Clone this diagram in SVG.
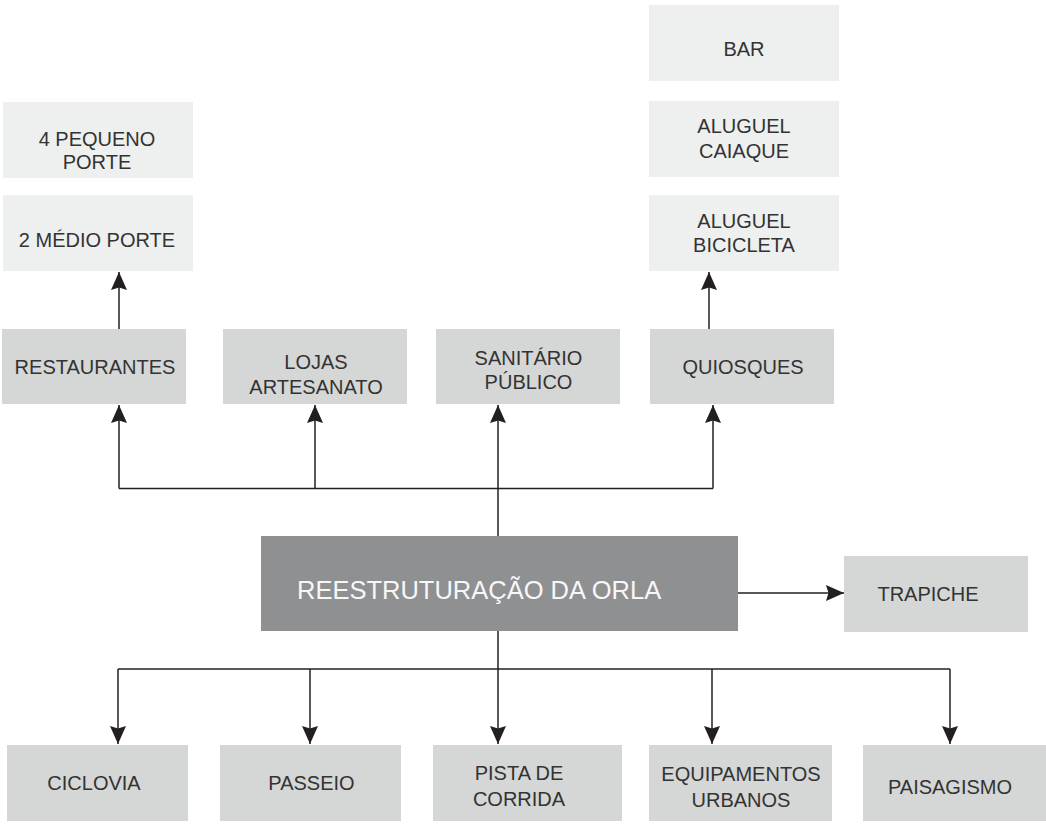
<svg xmlns="http://www.w3.org/2000/svg" width="1046" height="825" viewBox="0 0 1046 825">
<defs>
<style>
.light{fill:#eeefef}
.mid{fill:#d5d6d6}
.dark{fill:#8f9092}
.t{font-family:"Liberation Sans",Arial,sans-serif;font-size:20px;fill:#333333;text-anchor:middle}
.tc{font-family:"Liberation Sans",Arial,sans-serif;font-size:25.5px;fill:#f7f7f7}
.ln{fill:none;stroke:#231f20;stroke-width:1.5}
</style>
<marker id="arr" viewBox="0 0 18 16" refX="18" refY="8" markerWidth="18" markerHeight="16" markerUnits="userSpaceOnUse" orient="auto">
<path d="M0,0 L18,8 L0,16 L2.5,8 Z" fill="#231f20"/>
</marker>
</defs>
<rect width="1046" height="825" fill="#ffffff"/>

<g id="connectors">
<path class="ln" d="M119,329 V272" marker-end="url(#arr)"/>
<path class="ln" d="M709,329 V272" marker-end="url(#arr)"/>
<path class="ln" d="M498,536 V405" marker-end="url(#arr)"/>
<path class="ln" d="M119,488.5 H713"/>
<path class="ln" d="M119,488.5 V405" marker-end="url(#arr)"/>
<path class="ln" d="M315,488.5 V405" marker-end="url(#arr)"/>
<path class="ln" d="M713,488.5 V405" marker-end="url(#arr)"/>
<path class="ln" d="M738,593 H844" marker-end="url(#arr)"/>
<path class="ln" d="M498,631 V744" marker-end="url(#arr)"/>
<path class="ln" d="M118,669 H950"/>
<path class="ln" d="M118,669 V744" marker-end="url(#arr)"/>
<path class="ln" d="M310,669 V744" marker-end="url(#arr)"/>
<path class="ln" d="M712,669 V744" marker-end="url(#arr)"/>
<path class="ln" d="M950,669 V744" marker-end="url(#arr)"/>
</g>

<g id="pequeno-porte"><rect class="light" x="3" y="102" width="190" height="76"/><text class="t" x="97"><tspan x="97" y="145.5">4 PEQUENO</tspan><tspan x="97" y="168.5">PORTE</tspan></text></g>
<g id="medio-porte"><rect class="light" x="3" y="195" width="190" height="76"/><text class="t" x="97" y="246.5">2 MÉDIO PORTE</text></g>
<g id="bar"><rect class="light" x="649" y="5" width="190" height="76"/><text class="t" x="744" y="55.5">BAR</text></g>
<g id="aluguel-caiaque"><rect class="light" x="649" y="101" width="190" height="76"/><text class="t"><tspan x="744" y="133.3">ALUGUEL</tspan><tspan x="744" y="157.8">CAIAQUE</tspan></text></g>
<g id="aluguel-bicicleta"><rect class="light" x="649" y="195" width="190" height="76"/><text class="t"><tspan x="744" y="227.7">ALUGUEL</tspan><tspan x="744" y="252.3">BICICLETA</tspan></text></g>

<g id="restaurantes"><rect class="mid" x="2" y="329" width="184" height="75"/><text class="t" x="95" y="374.3">RESTAURANTES</text></g>
<g id="lojas-artesanato"><rect class="mid" x="223" y="329" width="184" height="75"/><text class="t"><tspan x="316" y="369.3">LOJAS</tspan><tspan x="316" y="394.3">ARTESANATO</tspan></text></g>
<g id="sanitario-publico"><rect class="mid" x="436" y="329" width="184" height="75"/><text class="t"><tspan x="528.5" y="365">SANITÁRIO</tspan><tspan x="528.5" y="389.3">PÚBLICO</tspan></text></g>
<g id="quiosques"><rect class="mid" x="650" y="329" width="184" height="75"/><text class="t" x="743" y="374">QUIOSQUES</text></g>

<g id="reestruturacao"><rect class="dark" x="261" y="536" width="477" height="95"/><text class="tc" x="297" y="599">REESTRUTURAÇÃO DA ORLA</text></g>
<g id="trapiche"><rect class="mid" x="844" y="556" width="184" height="76"/><text class="t" x="928" y="600.7">TRAPICHE</text></g>

<g id="ciclovia"><rect class="mid" x="7" y="745" width="181" height="76"/><text class="t" x="94" y="790">CICLOVIA</text></g>
<g id="passeio"><rect class="mid" x="220" y="745" width="181" height="76"/><text class="t" x="311.5" y="790">PASSEIO</text></g>
<g id="pista-corrida"><rect class="mid" x="433" y="745" width="189" height="76"/><text class="t"><tspan x="519" y="780">PISTA DE</tspan><tspan x="519" y="806">CORRIDA</tspan></text></g>
<g id="equipamentos-urbanos"><rect class="mid" x="649" y="745" width="183" height="76"/><text class="t"><tspan x="741" y="780.5">EQUIPAMENTOS</tspan><tspan x="741" y="807">URBANOS</tspan></text></g>
<g id="paisagismo"><rect class="mid" x="863" y="745" width="183" height="76"/><text class="t" x="950" y="794">PAISAGISMO</text></g>
</svg>
